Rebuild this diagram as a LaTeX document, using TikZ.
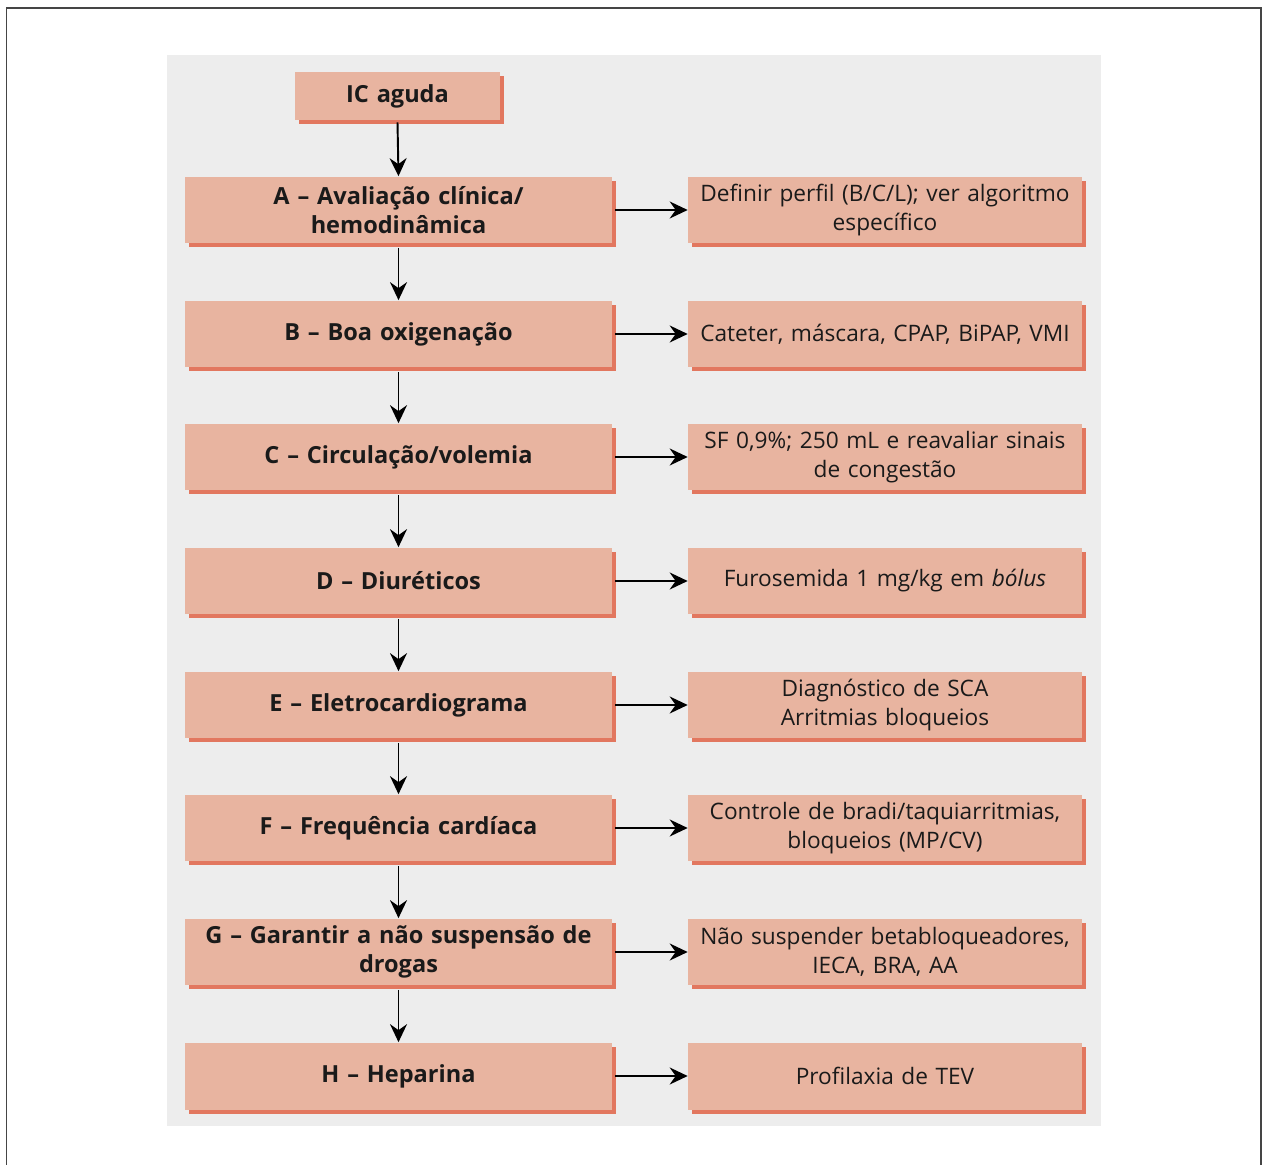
\documentclass[tikz,border=0pt]{standalone}
\usepackage{fontspec}
\setmainfont{Open Sans}
\usetikzlibrary{arrows.meta,shadows}
\definecolor{boxfill}{HTML}{E8B4A0}
\definecolor{boxshadow}{HTML}{E2775F}
\definecolor{panel}{HTML}{EDEDED}
\definecolor{framec}{HTML}{454545}
\definecolor{txt}{HTML}{1A1A1A}
\tikzset{
  px/.style={x=0.02cm,y=-0.02cm},
  flowbox/.style={fill=boxfill, draw=none, text=txt, align=center,
    inner sep=0pt, font=\fontsize{12.9pt}{16.4pt}\selectfont,
    drop shadow={shadow xshift=0.08cm, shadow yshift=-0.08cm, fill=boxshadow, opacity=1}},
  leftbox/.style={flowbox, minimum width=8.54cm, minimum height=1.34cm, text width=8.4cm,
    font=\fontsize{13.4pt}{16.6pt}\selectfont\bfseries},
  rightbox/.style={flowbox, minimum width=7.88cm, minimum height=1.34cm, text width=7.85cm},
  topbox/.style={leftbox, minimum width=4.1cm, minimum height=0.96cm, text width=4cm},
  arr/.style={line width=1.1pt, -{Stealth[length=0.36cm,width=0.34cm,inset=0.12cm]}}
}
\begin{document}
\begin{tikzpicture}[px]
\useasboundingbox (0,0) rectangle (1264,1165);
\fill[white] (0,0) rectangle (1264,1165);
\draw[framec, line width=1.1pt] (6.5,1165) -- (6.5,8) -- (1261,8) -- (1261,1165);
\fill[panel] (167,55) rectangle (1101,1126);

\node[topbox] (ic) at (397.5,96) {IC aguda};

\node[leftbox] (a) at (398.5,210) {A – Avaliação clínica/\\hemodinâmica};
\node[leftbox] (b) at (398.5,334) {B – Boa oxigenação};
\node[leftbox] (c) at (398.5,457) {C – Circulação/volemia};
\node[leftbox] (d) at (398.5,581) {D – Diuréticos};
\node[leftbox] (e) at (398.5,705) {E – Eletrocardiograma};
\node[leftbox] (f) at (398.5,828) {F – Frequência cardíaca};
\node[leftbox] (g) at (398.5,952) {G – Garantir a não suspensão de\\drogas};
\node[leftbox] (h) at (398.5,1076) {H – Heparina};

\node[rightbox] (ra) at (885,210) {Definir perfil (B/C/L); ver algoritmo\\específico};
\node[rightbox] (rb) at (885,334) {Cateter, máscara, CPAP, BiPAP, VMI};
\node[rightbox] (rc) at (885,457) {SF 0,9\%; 250 mL e reavaliar sinais\\de congestão};
\node[rightbox] (rd) at (885,581) {Furosemida 1 mg/kg em \textit{bólus}};
\node[rightbox] (re) at (885,705) {Diagnóstico de SCA\\Arritmias bloqueios};
\node[rightbox] (rf) at (885,828) {Controle de bradi/taquiarritmias,\\bloqueios (MP/CV)};
\node[rightbox] (rg) at (885,952) {Não suspender betabloqueadores,\\IECA, BRA, AA};
\node[rightbox] (rh) at (885,1076) {Profilaxia de TEV};

\draw[arr] ([yshift=-0.04cm]ic.south) -- (a.north);
\foreach \u/\v in {a/b,b/c,c/d,d/e,e/f,f/g,g/h}{
  \draw[arr] ([yshift=-0.08cm]\u.south) -- (\v.north);
}
\foreach \u in {a,b,c,d,e,f,g,h}{
  \draw[arr] ([xshift=0.06cm]\u.east) -- (r\u.west);
}
\end{tikzpicture}
\end{document}
